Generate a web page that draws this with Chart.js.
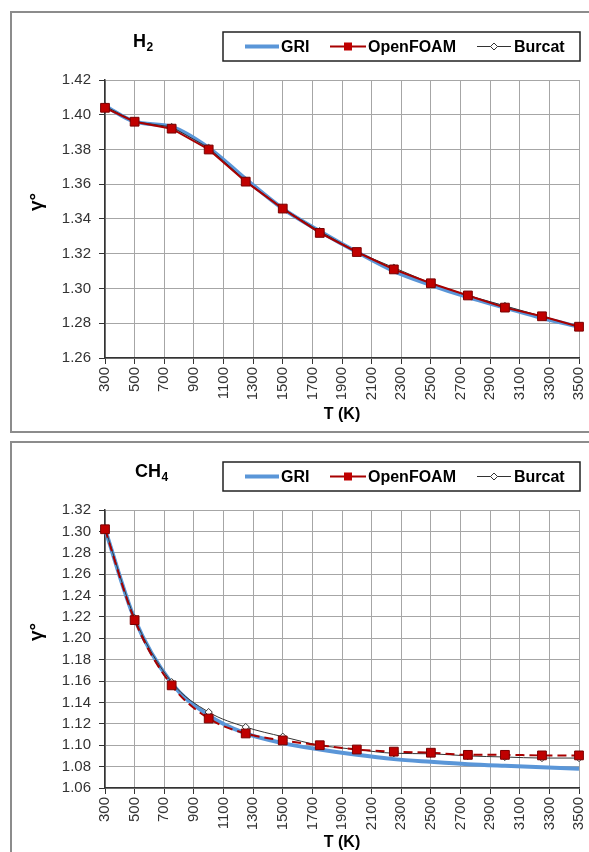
<!DOCTYPE html>
<html><head><meta charset="utf-8">
<script src="https://cdn.jsdelivr.net/npm/chart.js@4.4.0/dist/chart.umd.min.js"></script>
<style>
html,body{margin:0;padding:0;background:#fff;overflow:hidden;}
body{width:589px;height:852px;position:relative;}
.panel{position:absolute;border:2px solid #8c8c8c;box-sizing:border-box;z-index:0;}
#p1{left:10px;top:11px;width:640px;height:422px;}
#p2{left:10px;top:441px;width:640px;height:440px;}
canvas{position:absolute;left:0;z-index:1;}
#c1{top:0;}
#c2{top:430px;}
</style></head>
<body>
<div class="panel" id="p1"></div>
<div class="panel" id="p2"></div>
<canvas id="c1" width="620" height="430"></canvas>
<canvas id="c2" width="620" height="422"></canvas>
<script>
// ---- data ----
const temps = [300,500,750,1000,1250,1500,1750,2000,2250,2500,2750,3000,3250,3500];
const xTicks = [300,500,700,900,1100,1300,1500,1700,1900,2100,2300,2500,2700,2900,3100,3300,3500];

const h2Gri      = [1.405,1.396,1.393,1.381,1.363,1.346,1.333,1.321,1.310,1.302,1.295,1.289,1.283,1.278];
const h2OpenFOAM = [1.404,1.396,1.392,1.380,1.3615,1.346,1.332,1.321,1.311,1.303,1.296,1.289,1.284,1.278];
const h2Burcat   = [1.405,1.396,1.393,1.381,1.362,1.346,1.333,1.321,1.312,1.303,1.296,1.290,1.284,1.278];
const h2YTicks   = [1.26,1.28,1.30,1.32,1.34,1.36,1.38,1.40,1.42];

const ch4Gri      = [1.302,1.218,1.158,1.128,1.111,1.102,1.096,1.091,1.087,1.0845,1.0823,1.0808,1.0795,1.078];
const ch4OpenFOAM = [1.302,1.217,1.156,1.125,1.111,1.1045,1.100,1.096,1.094,1.093,1.091,1.091,1.0905,1.0905];
const ch4Burcat   = [1.303,1.219,1.159,1.131,1.117,1.108,1.100,1.096,1.0925,1.092,1.090,1.089,1.088,1.088];
const ch4YTicks   = [1.06,1.08,1.10,1.12,1.14,1.16,1.18,1.20,1.22,1.24,1.26,1.28,1.30,1.32];

const seriesNames = ['GRI','OpenFOAM','Burcat'];
// ---- styling ----
const FONT = '"Liberation Sans", Arial, sans-serif';
const BLUE = '#5a96d8', RED = '#a80000', REDFILL = '#c00000', DARK = '#333333';

function pts(vals){ return temps.map((t,i)=>({x:t,y:vals[i]})); }

const decor = {
  id:'decor',
  afterDraw(chart, args, o){
    const ctx = chart.ctx;
    ctx.save();
    ctx.fillStyle = '#000';
    ctx.textAlign = 'left'; ctx.textBaseline = 'alphabetic';
    ctx.font = 'bold 18px ' + FONT;
    let x = o.titleX;
    ctx.fillText(o.main, x, 47);
    x += ctx.measureText(o.main).width + 0.5;
    ctx.font = 'bold 12px ' + FONT;
    ctx.fillText(o.sub, x, 51);
    ctx.restore();

    // y title
    ctx.save();
    ctx.translate(37, 202); ctx.rotate(-Math.PI/2);
    ctx.font = 'bold 19px ' + FONT; ctx.fillStyle = '#000';
    ctx.textAlign = 'center'; ctx.textBaseline = 'middle';
    ctx.fillText('γ°', 0, 0);
    ctx.restore();

    // legend
    ctx.save();
    const bx = 223, by = 32, bw = 357, bh = 29, cy = by + bh/2;
    ctx.fillStyle = '#fff'; ctx.fillRect(bx, by, bw, bh);
    ctx.strokeStyle = '#222'; ctx.lineWidth = 1.5; ctx.strokeRect(bx, by, bw, bh);
    const ds = chart.data.datasets;
    ctx.font = 'bold 16px ' + FONT; ctx.fillStyle = '#000';
    ctx.textAlign = 'left'; ctx.textBaseline = 'middle';
    // GRI
    ctx.strokeStyle = ds[0].borderColor; ctx.lineWidth = 4;
    ctx.beginPath(); ctx.moveTo(245, cy); ctx.lineTo(279, cy); ctx.stroke();
    ctx.fillText(ds[0].label, 281, cy + 1);
    // OpenFOAM
    ctx.strokeStyle = ds[1].borderColor; ctx.lineWidth = 2;
    ctx.beginPath(); ctx.moveTo(330, cy); ctx.lineTo(366, cy); ctx.stroke();
    ctx.fillStyle = ds[1].pointBackgroundColor; ctx.fillRect(344, cy-4, 8, 8);
    ctx.fillStyle = '#000';
    ctx.fillText(ds[1].label, 368, cy + 1);
    // Burcat
    ctx.strokeStyle = ds[2].borderColor; ctx.lineWidth = 1;
    ctx.beginPath(); ctx.moveTo(477, cy); ctx.lineTo(511, cy); ctx.stroke();
    ctx.beginPath(); ctx.moveTo(494, cy-3.5); ctx.lineTo(497.5, cy); ctx.lineTo(494, cy+3.5); ctx.lineTo(490.5, cy); ctx.closePath();
    ctx.fillStyle = '#fff'; ctx.fill(); ctx.stroke();
    ctx.fillStyle = '#000';
    ctx.fillText(ds[2].label, 514, cy + 1);
    ctx.restore();
  }
};

function makeChart(id, gri, of, bur, yTicks, dashed, main, sub, titleX, canvasH, titlePadB){
  const smoothOF = dashed ? 'monotone' : 'default';
  return new Chart(document.getElementById(id), {
    type:'line',
    data:{ datasets:[
      { label:seriesNames[0], data:pts(gri), borderColor:BLUE, borderWidth:4, pointRadius:0,
        cubicInterpolationMode:'monotone', order:2, clip:false },
      { label:seriesNames[1], data:pts(of), borderColor:RED, borderWidth:2, borderDash: dashed ? [9,5] : [],
        pointStyle:'rect', pointRadius:6.2, pointBackgroundColor:REDFILL, pointBorderColor:'#7a0000', pointBorderWidth:1,
        cubicInterpolationMode: smoothOF, tension: 0, order:0, clip:false },
      { label:seriesNames[2], data:pts(bur), borderColor:DARK, borderWidth:1,
        pointStyle:'rectRot', pointRadius:3.6, pointBackgroundColor:'#fff', pointBorderColor:DARK, pointBorderWidth:1,
        cubicInterpolationMode: smoothOF, tension: 0, order:1, clip:false }
    ]},
    options:{
      responsive:false, animation:false,
      layout:{ padding:{ left:0, top:80, right:41, bottom:0 } },
      plugins:{ legend:{display:false}, tooltip:{enabled:false},
        decor:{ main, sub, titleX } },
      scales:{
        x:{ type:'linear', min:300, max:3500,
          afterBuildTicks: s => { s.ticks = xTicks.map(v=>({value:v})); },
          afterFit: s => { s.height = canvasH - 358; },
          ticks:{ autoSkip:false, minRotation:90, maxRotation:90, padding:3, color:'#333',
            font:{ family:FONT, size:15 }, callback: v => String(v) },
          grid:{ color:'#a6a6a6', lineWidth:1, tickLength:6, tickColor:'#333' },
          border:{ color:'#333', width:1.5 },
          title:{ display:true, text:'T (K)', color:'#000', font:{ family:FONT, size:16, weight:'bold' }, padding:{ top:0, bottom:titlePadB } }
        },
        y:{ type:'linear', min:yTicks[0], max:yTicks[yTicks.length-1],
          afterBuildTicks: s => { s.ticks = yTicks.map(v=>({value:v})); },
          afterFit: s => { s.width = 105; },
          ticks:{ padding:8, color:'#333', font:{ family:FONT, size:15 }, callback: v => Number(v).toFixed(2) },
          grid:{ color:'#a6a6a6', lineWidth:1, tickLength:6, tickColor:'#333' },
          border:{ color:'#333', width:1.5 }
        }
      }
    },
    plugins:[decor]
  });
}

makeChart('c1', h2Gri, h2OpenFOAM, h2Burcat, h2YTicks, false, 'H', '2', 133, 430, 6);
makeChart('c2', ch4Gri, ch4OpenFOAM, ch4Burcat, ch4YTicks, true, 'CH', '4', 135, 422, 0);
</script>
</body></html>
